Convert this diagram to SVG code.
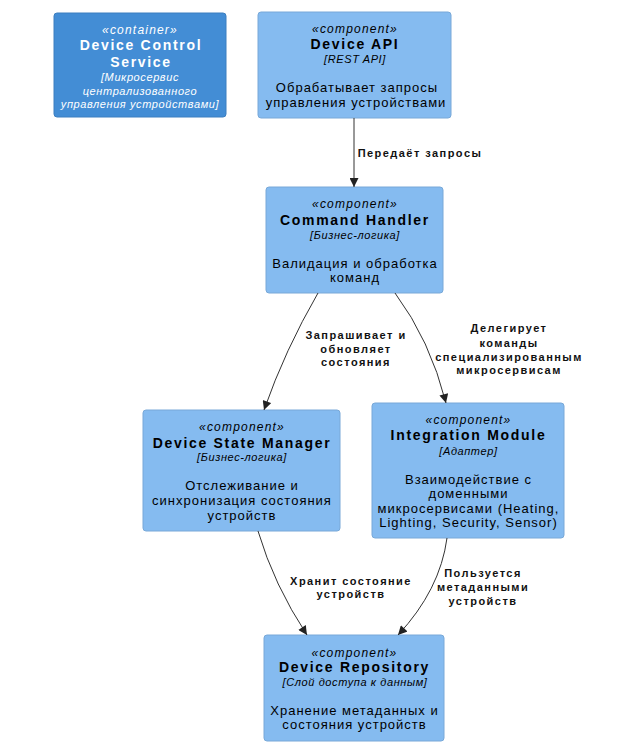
<svg xmlns="http://www.w3.org/2000/svg" width="622" height="746" viewBox="0 0 622 746">
<defs>
<marker id="arrow" viewBox="0 0 10 10" refX="10" refY="5" markerWidth="10" markerHeight="9" markerUnits="userSpaceOnUse" orient="auto">
<path d="M0,0 L10,5 L0,10 z" fill="#222"/>
</marker>
</defs>
<style>
text{font-family:"Liberation Sans",Arial,sans-serif;text-anchor:middle}
.cont{fill:#438DD5;stroke:#3C7FC0;stroke-width:1}
.comp{fill:#85BBF0;stroke:#78A8D8;stroke-width:1}
.st{font-size:12px;font-style:italic;letter-spacing:1.2px}
.ti{font-size:14px;font-weight:bold;letter-spacing:1.7px}
.te{font-size:11px;font-style:italic;letter-spacing:0.6px}
.de{font-size:13px;letter-spacing:1px}
.w{fill:#FFFFFF}
.k{fill:#000000}
.lbl{font-size:11px;font-weight:bold;letter-spacing:1.45px;fill:#111}
.rel{fill:none;stroke:#333;stroke-width:1;marker-end:url(#arrow)}
</style>
<rect width="622" height="746" fill="#FFFFFF"/>

<g id="device-control-service">
<rect class="cont" x="54" y="13" width="172" height="104" rx="3"/>
<text class="st w" x="140" y="34">«container»</text>
<text class="ti w" x="141" y="50">Device Control</text>
<text class="ti w" x="141" y="67">Service</text>
<text class="te w" x="140" y="81">[Микросервис</text>
<text class="te w" x="140" y="95">централизованного</text>
<text class="te w" x="140" y="108">управления устройствами]</text>
</g>

<g id="device-api">
<rect class="comp" x="258" y="12" width="193" height="106" rx="3"/>
<text class="st k" x="355" y="33">«component»</text>
<text class="ti k" x="355" y="49">Device API</text>
<text class="te k" x="355" y="63">[REST API]</text>
<text class="de k" x="357" y="92">Обрабатывает запросы</text>
<text class="de k" x="356" y="107">управления устройствами</text>
</g>

<g id="command-handler">
<rect class="comp" x="266" y="187" width="177" height="106" rx="3"/>
<text class="st k" x="355" y="208">«component»</text>
<text class="ti k" x="355" y="225">Command Handler</text>
<text class="te k" x="355" y="239">[Бизнес-логика]</text>
<text class="de k" x="355" y="268">Валидация и обработка</text>
<text class="de k" x="355" y="282">команд</text>
</g>

<g id="device-state-manager">
<rect class="comp" x="143" y="410" width="197" height="121" rx="3"/>
<text class="st k" x="242" y="431">«component»</text>
<text class="ti k" x="242" y="448">Device State Manager</text>
<text class="te k" x="242" y="461">[Бизнес-логика]</text>
<text class="de k" x="242" y="490">Отслеживание и</text>
<text class="de k" x="242" y="505">синхронизация состояния</text>
<text class="de k" x="242" y="520">устройств</text>
</g>

<g id="integration-module">
<rect class="comp" x="372" y="403" width="192" height="135" rx="3"/>
<text class="st k" x="468.5" y="424">«component»</text>
<text class="ti k" x="468.5" y="440">Integration Module</text>
<text class="te k" x="468.5" y="455">[Адаптер]</text>
<text class="de k" x="468.5" y="484">Взаимодействие с</text>
<text class="de k" x="468.5" y="498">доменными</text>
<text class="de k" x="468.5" y="513">микросервисами (Heating,</text>
<text class="de k" x="468.5" y="527">Lighting, Security, Sensor)</text>
</g>

<g id="device-repository">
<rect class="comp" x="264" y="635" width="180" height="106" rx="3"/>
<text class="st k" x="354.5" y="657">«component»</text>
<text class="ti k" x="354.5" y="672">Device Repository</text>
<text class="te k" x="355" y="686">[Слой доступа к данным]</text>
<text class="de k" x="354.5" y="715">Хранение метаданных и</text>
<text class="de k" x="354.5" y="729">состояния устройств</text>
</g>

<g id="connectors">
<path class="rel" d="M354,118 L354,187"/>
<text class="lbl" x="420" y="157">Передаёт запросы</text>
<path class="rel" d="M318,293 Q285,350 264,410"/>
<text class="lbl" x="356" y="339">Запрашивает и</text>
<text class="lbl" x="356" y="353">обновляет</text>
<text class="lbl" x="356" y="366">состояния</text>
<path class="rel" d="M395,293 Q430,340 446,403"/>
<text class="lbl" x="509" y="332">Делегирует</text>
<text class="lbl" x="509" y="347">команды</text>
<text class="lbl" x="509" y="361">специализированным</text>
<text class="lbl" x="509" y="374">микросервисам</text>
<path class="rel" d="M258,531 Q274,585 307,635"/>
<text class="lbl" x="351" y="585">Хранит состояние</text>
<text class="lbl" x="351" y="598">устройств</text>
<path class="rel" d="M447,538 Q440,590 398,635"/>
<text class="lbl" x="483" y="577">Пользуется</text>
<text class="lbl" x="483" y="591">метаданными</text>
<text class="lbl" x="483" y="605">устройств</text>
</g>
</svg>
